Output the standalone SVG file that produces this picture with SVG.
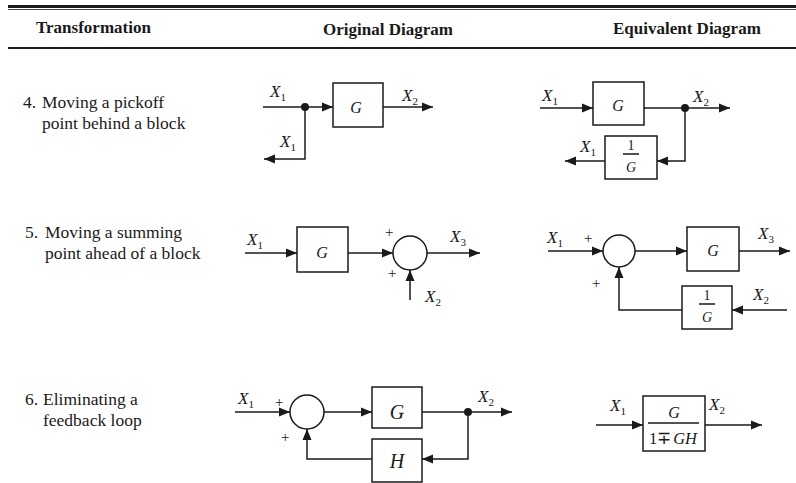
<svg xmlns="http://www.w3.org/2000/svg" width="796" height="483" viewBox="0 0 796 483">
<defs>
<marker id="arr" markerUnits="userSpaceOnUse" markerWidth="12" markerHeight="10" refX="11" refY="5" orient="auto">
<path d="M0,0.5 L11,5 L0,9.5 z" fill="#1a1a1a"/>
</marker>
<style>
.t{font-family:"Liberation Serif","Times New Roman",serif;fill:#1a1a1a;font-size:17.5px}
.h{font-family:"Liberation Serif","Times New Roman",serif;fill:#1a1a1a;font-size:17px;font-weight:bold}
.v{font-family:"Liberation Serif","Times New Roman",serif;fill:#1a1a1a;font-size:17px;font-style:italic}
.g{font-family:"Liberation Serif","Times New Roman",serif;fill:#1a1a1a;font-size:16px;font-style:italic;text-anchor:middle}
.gb{font-family:"Liberation Serif","Times New Roman",serif;fill:#1a1a1a;font-size:20px;font-style:italic;text-anchor:middle}
.n{font-family:"Liberation Serif","Times New Roman",serif;fill:#1a1a1a;font-size:14px;text-anchor:middle}
.s{font-size:11px;font-style:normal}
.p{font-family:"Liberation Serif","Times New Roman",serif;fill:#1a1a1a;font-size:15px}
.box{fill:#fff;stroke:#1a1a1a;stroke-width:1.5}
.ln{fill:none;stroke:#1a1a1a;stroke-width:1.5}
.a{fill:none;stroke:#1a1a1a;stroke-width:1.5;marker-end:url(#arr)}
.dot{fill:#1a1a1a}
</style>
</defs>
<rect width="796" height="483" fill="#fff"/>

<g id="header">
<line x1="8" y1="6.5" x2="796" y2="6.5" stroke="#1a1a1a" stroke-width="3"/>
<line x1="8" y1="9.5" x2="796" y2="9.5" stroke="#444" stroke-width="1"/>
<line x1="8" y1="48" x2="796" y2="48" stroke="#1a1a1a" stroke-width="2"/>
<text class="h" x="36" y="33">Transformation</text>
<text class="h" x="323" y="35">Original Diagram</text>
<text class="h" x="613" y="34">Equivalent Diagram</text>
</g>

<g id="row-labels">
<text class="t" x="23" y="108">4.</text>
<text class="t" x="42" y="108">Moving a pickoff</text>
<text class="t" x="42" y="129">point behind a block</text>
<text class="t" x="25" y="238">5.</text>
<text class="t" x="45" y="238">Moving a summing</text>
<text class="t" x="45" y="259">point ahead of a block</text>
<text class="t" x="25" y="405">6.</text>
<text class="t" x="43" y="405">Eliminating a</text>
<text class="t" x="43" y="426">feedback loop</text>
</g>

<g id="connectors">
<!-- row 4 original -->
<line class="a" x1="263" y1="107" x2="333" y2="107"/>
<line class="a" x1="383" y1="107" x2="433" y2="107"/>
<polyline class="a" points="305,107 305,159 264,159"/>
<!-- row 4 equivalent -->
<line class="a" x1="540" y1="108" x2="593" y2="108"/>
<line class="a" x1="644" y1="108" x2="730" y2="108"/>
<polyline class="a" points="685,108 685,161 657,161"/>
<line class="a" x1="605" y1="161" x2="565" y2="161"/>
<!-- row 5 original -->
<line class="a" x1="245" y1="253" x2="297" y2="253"/>
<line class="a" x1="348" y1="253" x2="393" y2="253"/>
<line class="a" x1="427" y1="253" x2="480" y2="253"/>
<line class="a" x1="410" y1="300" x2="410" y2="270"/>
<!-- row 5 equivalent -->
<line class="a" x1="548" y1="251" x2="603" y2="251"/>
<line class="a" x1="635" y1="251" x2="687" y2="251"/>
<line class="a" x1="739" y1="251" x2="790" y2="251"/>
<line class="a" x1="787" y1="310" x2="732" y2="310"/>
<polyline class="a" points="682,310 619,310 619,267"/>
<!-- row 6 original -->
<line class="a" x1="235" y1="412" x2="290" y2="412"/>
<line class="a" x1="324" y1="412" x2="372" y2="412"/>
<line class="a" x1="422" y1="412" x2="512" y2="412"/>
<polyline class="a" points="468,412 468,459 422,459"/>
<polyline class="a" points="372,459 307,459 307,429"/>
<!-- row 6 equivalent -->
<line class="a" x1="596" y1="425" x2="643" y2="425"/>
<line class="a" x1="705" y1="425" x2="762" y2="425"/>
</g>

<g id="r4-orig">
<rect class="box" x="333" y="83" width="50" height="44"/>
<text class="g" x="356" y="113">G</text>
<circle class="dot" cx="305" cy="107" r="4"/>
<text class="v" x="270" y="97">X<tspan class="s" dy="4">1</tspan></text>
<text class="v" x="402" y="101">X<tspan class="s" dy="4">2</tspan></text>
<text class="v" x="280" y="147">X<tspan class="s" dy="4">1</tspan></text>
</g>

<g id="r4-equiv">
<rect class="box" x="593" y="82" width="51" height="43"/>
<text class="g" x="618" y="111">G</text>
<circle class="dot" cx="685" cy="108" r="4"/>
<rect class="box" x="605" y="136" width="52" height="43"/>
<text class="n" x="631" y="150">1</text>
<line class="ln" x1="623" y1="154" x2="639" y2="154" stroke-width="1"/>
<text class="n" x="631" y="172" font-style="italic">G</text>
<text class="v" x="542" y="101">X<tspan class="s" dy="4">1</tspan></text>
<text class="v" x="693" y="102">X<tspan class="s" dy="4">2</tspan></text>
<text class="v" x="580" y="152">X<tspan class="s" dy="4">1</tspan></text>
</g>

<g id="r5-orig">
<rect class="box" x="297" y="227" width="51" height="45"/>
<text class="g" x="322" y="258">G</text>
<circle class="box" cx="410" cy="253" r="17"/>
<text class="p" x="385" y="237">+</text>
<text class="p" x="388" y="278">+</text>
<text class="v" x="247" y="245">X<tspan class="s" dy="4">1</tspan></text>
<text class="v" x="450" y="242">X<tspan class="s" dy="4">3</tspan></text>
<text class="v" x="425" y="302">X<tspan class="s" dy="4">2</tspan></text>
</g>

<g id="r5-equiv">
<circle class="box" cx="619" cy="251" r="16"/>
<rect class="box" x="687" y="227" width="52" height="44"/>
<text class="g" x="713" y="256">G</text>
<rect class="box" x="682" y="286" width="50" height="43"/>
<text class="n" x="707" y="300">1</text>
<line class="ln" x1="699" y1="304" x2="715" y2="304" stroke-width="1"/>
<text class="n" x="707" y="322" font-style="italic">G</text>
<text class="p" x="584" y="243">+</text>
<text class="p" x="592" y="288">+</text>
<text class="v" x="547" y="243">X<tspan class="s" dy="4">1</tspan></text>
<text class="v" x="758" y="239">X<tspan class="s" dy="4">3</tspan></text>
<text class="v" x="753" y="300">X<tspan class="s" dy="4">2</tspan></text>
</g>

<g id="r6-orig">
<circle class="box" cx="307" cy="412" r="17"/>
<rect class="box" x="372" y="387" width="50" height="41"/>
<text class="gb" x="397" y="419">G</text>
<circle class="dot" cx="468" cy="412" r="4"/>
<rect class="box" x="372" y="439" width="50" height="43"/>
<text class="gb" x="397" y="468">H</text>
<text class="p" x="275" y="407">+</text>
<text class="p" x="281" y="442">+</text>
<text class="v" x="238" y="404">X<tspan class="s" dy="4">1</tspan></text>
<text class="v" x="478" y="402">X<tspan class="s" dy="4">2</tspan></text>
</g>

<g id="r6-equiv">
<rect class="box" x="643" y="396" width="62" height="55"/>
<text class="g" x="674" y="418">G</text>
<line class="ln" x1="648" y1="423" x2="699" y2="423" stroke-width="1"/>
<text class="t" x="649" y="444" font-size="14" textLength="48" lengthAdjust="spacingAndGlyphs">1∓<tspan font-style="italic" dx="2">GH</tspan></text>
<text class="v" x="610" y="411">X<tspan class="s" dy="4">1</tspan></text>
<text class="v" x="709" y="410">X<tspan class="s" dy="4">2</tspan></text>
</g>
</svg>
